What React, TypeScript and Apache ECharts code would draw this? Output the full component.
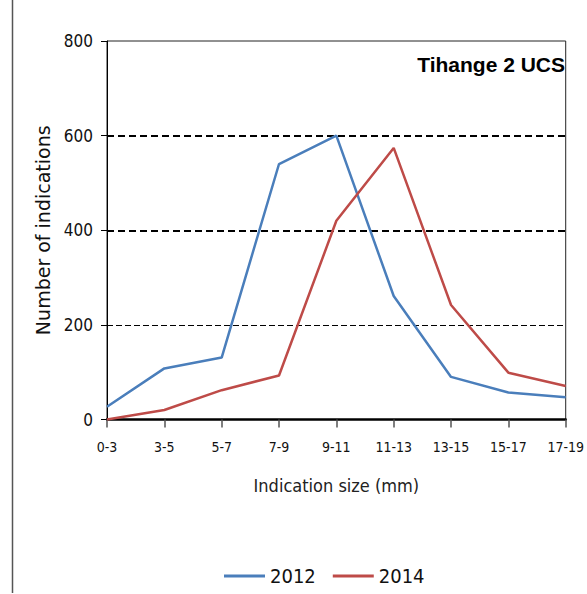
import React, { useEffect, useRef } from "react";
import * as echarts from "echarts";

const categories = ["0-3", "3-5", "5-7", "7-9", "9-11", "11-13", "13-15", "15-17", "17-19"];
const values2012 = [27, 108, 131, 540, 600, 261, 90, 57, 47];
const values2014 = [0, 20, 62, 93, 420, 574, 242, 99, 71];
const yTicks = [0, 200, 400, 600, 800];
const seriesNames = ["2012", "2014"];
const title = "Tihange 2 UCS";

const NARROW = '"Liberation Sans Narrow", "DejaVu Sans Condensed", sans-serif';

export default function App() {
  const ref = useRef<HTMLDivElement>(null);
  useEffect(() => {
    if (!ref.current) return;
    const chart = echarts.init(ref.current, undefined, { renderer: "svg" });
    const option: any = {
      animation: false,
      backgroundColor: "#ffffff",
      grid: {
        left: 107,
        right: 17,
        top: 41,
        bottom: 174.5,
        containLabel: false,
        show: true,
        borderColor: "#222",
        borderWidth: 1,
      },
      graphic: [
        {
          type: "line",
          shape: { x1: 12.5, y1: 0, x2: 12.5, y2: 593 },
          style: { stroke: "#555", lineWidth: 1.5 },
        },
        {
          type: "text",
          right: 22,
          top: 54,
          style: {
            text: title,
            font: 'bold 21px "Liberation Sans", Arial, sans-serif',
            fill: "#000",
          },
        },
      ],
      legend: {
        data: seriesNames,
        left: 219,
        top: 561,
        icon: "rect",
        itemWidth: 41,
        itemHeight: 3,
        itemGap: 17,
        textStyle: { fontFamily: NARROW, fontSize: 20, color: "#111" },
      },
      xAxis: {
        type: "category",
        data: categories,
        boundaryGap: false,
        name: "Indication size (mm)",
        nameLocation: "middle",
        nameGap: 66,
        nameTextStyle: { fontFamily: NARROW, fontSize: 18, color: "#222", verticalAlign: "middle" },
        axisLine: { lineStyle: { color: "#000", width: 2.5 } },
        axisTick: { show: true, length: 8, lineStyle: { color: "#555", width: 1.5 } },
        axisLabel: { fontFamily: NARROW, fontSize: 14, color: "#111", margin: 20, interval: 0 },
        splitLine: { show: false },
      },
      yAxis: {
        type: "value",
        min: 0,
        max: 800,
        interval: 200,
        name: "Number of indications",
        nameLocation: "middle",
        nameGap: 56,
        nameTextStyle: { fontFamily: '"DejaVu Sans", sans-serif', fontSize: 19, color: "#111", verticalAlign: "middle" },
        axisLine: { show: true, lineStyle: { color: "#000", width: 1 } },
        axisTick: { show: true, length: 6, lineStyle: { color: "#000", width: 1 } },
        axisLabel: {
          fontFamily: NARROW,
          fontSize: 17,
          color: "#111",
          margin: 14,
          formatter: (v: number) => (yTicks.includes(v) ? String(v) : ""),
        },
        splitLine: { show: false },
      },
      series: [
        {
          name: seriesNames[0],
          type: "line",
          data: values2012,
          symbol: "none",
          lineStyle: { color: "#4A7EBB", width: 2.5 },
          itemStyle: { color: "#4A7EBB" },
          z: 3,
          markLine: {
            silent: true,
            symbol: ["none", "none"],
            label: { show: false },
            z: 1,
            data: [
              { yAxis: 600, lineStyle: { color: "#000", width: 2, type: [7, 4] } },
              { yAxis: 400, lineStyle: { color: "#000", width: 2, type: [7, 4] } },
              { yAxis: 200, lineStyle: { color: "#000", width: 1, type: [6, 3] } },
            ],
          },
        },
        {
          name: seriesNames[1],
          type: "line",
          data: values2014,
          symbol: "none",
          lineStyle: { color: "#BE4B48", width: 2.5 },
          itemStyle: { color: "#BE4B48" },
          z: 3,
        },
      ],
    };
    chart.setOption(option);
    return () => chart.dispose();
  }, []);
  return (
    <div
      ref={ref}
      style={{ position: "fixed", left: 0, top: 0, width: 587, height: 594, background: "#fff" }}
    />
  );
}
